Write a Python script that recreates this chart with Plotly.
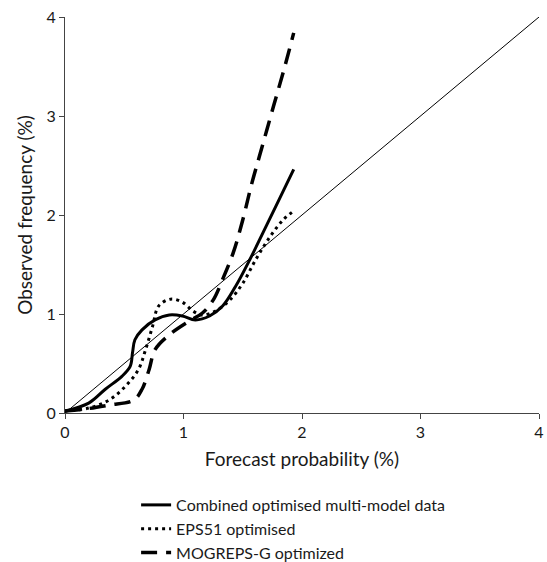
import plotly.graph_objects as go

# Combined optimised multi-model data
comb_x = [0.0, 0.2, 0.34, 0.48, 0.55, 0.57, 0.59, 0.65, 0.76, 0.88, 0.99, 1.1, 1.22, 1.33, 1.44, 1.56, 1.67, 1.78, 1.93]
comb_y = [0.02, 0.1, 0.24, 0.37, 0.47, 0.61, 0.74, 0.84, 0.94, 0.99, 0.98, 0.94, 0.98, 1.08, 1.28, 1.55, 1.82, 2.09, 2.46]

# EPS51 optimised
eps_x = [0.0, 0.2, 0.37, 0.51, 0.62, 0.68, 0.74, 0.79, 0.89, 0.99, 1.08, 1.16, 1.27, 1.39, 1.5, 1.61, 1.73, 1.84, 1.94]
eps_y = [0.02, 0.05, 0.13, 0.27, 0.44, 0.64, 0.88, 1.08, 1.15, 1.12, 1.03, 0.99, 1.03, 1.14, 1.31, 1.55, 1.78, 1.95, 2.05]

# MOGREPS-G optimized
mog_x = [0.0, 0.17, 0.37, 0.58, 0.65, 0.71, 0.76, 0.88, 1.05, 1.16, 1.25, 1.33, 1.42, 1.5, 1.57, 1.64, 1.76, 1.855, 1.93]
mog_y = [0.02, 0.04, 0.08, 0.13, 0.24, 0.44, 0.64, 0.79, 0.93, 1.01, 1.14, 1.35, 1.62, 1.95, 2.29, 2.59, 3.1, 3.5, 3.84]

diag = [0, 4]
ticks = [0, 1, 2, 3, 4]

FONT = "Lato"
TXT = "#1a1a1a"

fig = go.Figure()
fig.add_trace(go.Scatter(x=diag, y=diag, mode="lines", line=dict(color="black", width=1),
                         showlegend=False, hoverinfo="skip"))
fig.add_trace(go.Scatter(x=comb_x, y=comb_y, mode="lines", name="Combined optimised multi-model data",
                         line=dict(color="black", width=3, shape="spline", smoothing=1.0)))
fig.add_trace(go.Scatter(x=eps_x, y=eps_y, mode="lines", name="EPS51 optimised",
                         line=dict(color="black", width=3, dash="3px,4px", shape="spline", smoothing=1.0)))
fig.add_trace(go.Scatter(x=mog_x, y=mog_y, mode="lines", name="MOGREPS-G optimized",
                         line=dict(color="black", width=3.5, dash="16px,9px", shape="spline", smoothing=1.0)))

fig.update_layout(
    width=547, height=562,
    margin=dict(l=65, r=8, t=17, b=149),
    plot_bgcolor="white", paper_bgcolor="white",
    font=dict(family=FONT, size=16, color=TXT),
    showlegend=True,
    legend=dict(x=0.15, xref="paper", y=0.1317, yref="container", xanchor="left", yanchor="top",
                orientation="v",
                font=dict(family=FONT, size=16, color=TXT), tracegroupgap=0,
                itemwidth=30, bgcolor="rgba(0,0,0,0)"),
    xaxis=dict(range=[0, 4], tickvals=ticks, ticks="outside", ticklen=5, tickcolor="#444",
               showline=True, linecolor="#444", linewidth=1, showgrid=False, zeroline=False,
               automargin=False,
               title=dict(text="Forecast probability (%)", standoff=12),
               tickfont=dict(size=16)),
    yaxis=dict(range=[0, 4], tickvals=ticks, ticks="outside", ticklen=5, tickcolor="#444",
               showline=True, linecolor="#444", linewidth=1, showgrid=False, zeroline=False,
               automargin=False,
               title=dict(text="Observed frequency (%)", standoff=8),
               tickfont=dict(size=16)),
)

fig.write_html("out.html", config={"displayModeBar": False},
               post_script="document.body.style.margin='0';")
